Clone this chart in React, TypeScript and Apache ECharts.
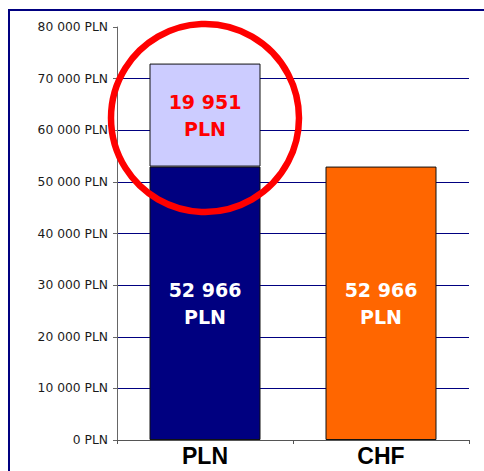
import React, { useEffect, useRef } from "react";
import * as echarts from "echarts";

const categories = ["PLN", "CHF"];
const baseValues = [52966, 52966];
const extraValues = [19951, null];
const baseColors = ["#000080", "#FF6600"];
const yTicks = [0, 10000, 20000, 30000, 40000, 50000, 60000, 70000, 80000];

const fmt = (v: number) => String(Math.round(v)).replace(/\B(?=(\d{3})+(?!\d))/g, " ");

export default function App() {
  const ref = useRef<HTMLDivElement>(null);
  useEffect(() => {
    if (!ref.current) return;
    const chart = echarts.init(ref.current, null, { renderer: "svg" });
    const gridColors = yTicks.map((_, i) => (i === yTicks.length - 1 ? "rgba(0,0,0,0)" : "#000080"));
    chart.setOption({
      animation: false,
      backgroundColor: "#ffffff",
      grid: { left: 117, right: 15, top: 27, bottom: 31, containLabel: false },
      xAxis: {
        type: "category",
        data: categories,
        axisLine: { show: true, lineStyle: { color: "#555", width: 1 } },
        axisTick: { show: true, length: 4, lineStyle: { color: "#555" } },
        axisLabel: {
          margin: 4,
          color: "#000",
          fontFamily: "Liberation Sans",
          fontWeight: "bold",
          fontSize: 23,
        },
      },
      yAxis: {
        type: "value",
        min: 0,
        max: 80000,
        interval: 10000,
        axisLine: { show: true, lineStyle: { color: "#666", width: 1 } },
        axisTick: { show: true, length: 4, lineStyle: { color: "#666" } },
        axisLabel: {
          margin: 9,
          color: "#1a1a1a",
          fontFamily: "DejaVu Sans",
          fontSize: 12.3,
          formatter: (v: number) => fmt(v) + " PLN",
        },
        splitLine: { show: true, lineStyle: { color: gridColors, width: 1 } },
      },
      series: [
        {
          type: "bar",
          stack: "s",
          barWidth: 111,
          data: baseValues.map((v, i) => ({ value: v, itemStyle: { color: baseColors[i] } })),
          itemStyle: { borderColor: "#111", borderWidth: 1 },
          label: {
            show: true,
            position: "inside",
            color: "#ffffff",
            fontFamily: "DejaVu Sans",
            fontWeight: "bold",
            fontSize: 19,
            lineHeight: 27,
            formatter: (p: any) => fmt(p.value) + "\nPLN",
          },
        },
        {
          type: "bar",
          stack: "s",
          barWidth: 111,
          data: extraValues,
          itemStyle: { color: "#CCCCFF", borderColor: "#111", borderWidth: 1 },
          label: {
            show: true,
            position: "inside",
            color: "#FF0000",
            fontFamily: "DejaVu Sans",
            fontWeight: "bold",
            fontSize: 19,
            lineHeight: 27,
            formatter: (p: any) => (p.value == null ? "" : fmt(p.value) + "\nPLN"),
          },
        },
      ],
      graphic: [
        {
          type: "rect",
          shape: { x: 9, y: 10, width: 500, height: 500 },
          style: { fill: "none", stroke: "#000080", lineWidth: 2 },
          silent: true,
          z: 0,
        },
        {
          type: "circle",
          shape: { cx: 205, cy: 118, r: 94 },
          style: { fill: "none", stroke: "#FF0000", lineWidth: 6.5 },
          silent: true,
          z: 100,
        },
      ],
    });
    return () => chart.dispose();
  }, []);
  return (
    <div
      ref={ref}
      style={{ position: "fixed", left: 0, top: 0, width: 484, height: 471, background: "#fff" }}
    />
  );
}
